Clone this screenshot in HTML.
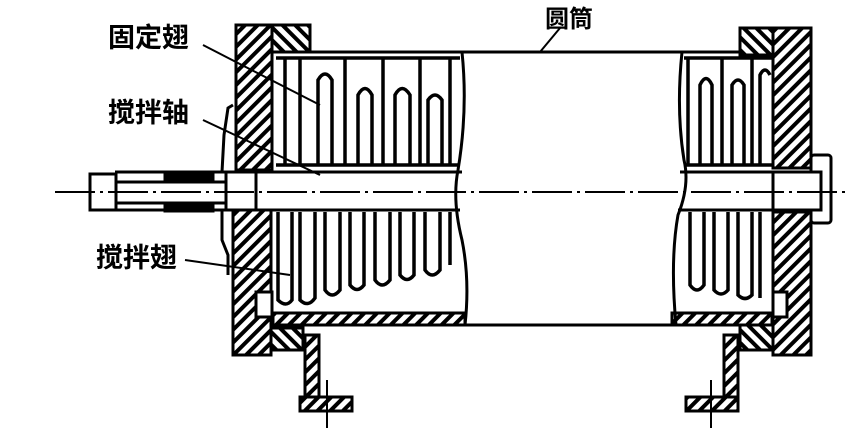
<!DOCTYPE html>
<html><head><meta charset="utf-8"><style>
html,body{margin:0;padding:0;background:#fff;}
svg{display:block}
text{font-family:"Liberation Sans","Noto Sans CJK SC",sans-serif;font-weight:bold;font-size:27px;fill:#000}
</style></head><body>
<svg width="849" height="430" viewBox="0 0 849 430" xmlns="http://www.w3.org/2000/svg">
<defs>
<pattern id="h" width="9" height="9" patternUnits="userSpaceOnUse" patternTransform="rotate(45)">
<rect width="9" height="9" fill="#fff"/><rect width="4" height="9" fill="#000"/></pattern>
<pattern id="h2" width="9" height="9" patternUnits="userSpaceOnUse" patternTransform="rotate(-45)">
<rect width="9" height="9" fill="#fff"/><rect width="4" height="9" fill="#000"/></pattern>
</defs>
<g stroke="#000" stroke-width="3" fill="none">
<rect x="236" y="25" width="36" height="145" fill="url(#h)"/>
<rect x="233" y="210" width="38" height="145" fill="url(#h)"/>
<rect x="272" y="25" width="38" height="27" fill="url(#h2)"/>
<rect x="271" y="328" width="32" height="22" fill="url(#h2)"/>
<rect x="256" y="292" width="16" height="25" fill="#fff"/>
<rect x="773" y="28" width="38" height="140" fill="url(#h)"/>
<rect x="773" y="212" width="38" height="143" fill="url(#h)"/>
<rect x="740" y="28" width="33" height="27" fill="url(#h2)"/>
<rect x="740" y="325" width="33" height="25" fill="url(#h2)"/>
<rect x="773" y="292" width="14" height="25" fill="#fff"/>
<line x1="310" y1="52" x2="740" y2="52"/>
<line x1="271" y1="325" x2="773" y2="325"/>
<rect x="273" y="313" width="192" height="12" fill="url(#h)"/>
<rect x="672" y="313" width="100" height="12" fill="url(#h)"/>
<!-- shaft -->
<line x1="115" y1="172" x2="462" y2="172"/>
<line x1="115" y1="210" x2="460" y2="210"/>
<line x1="680" y1="172" x2="815" y2="172"/>
<line x1="678" y1="210" x2="815" y2="210"/>
<rect x="90" y="174" width="26" height="36" fill="#fff"/>
<rect x="116" y="182" width="120" height="21" fill="#fff"/>
<rect x="165" y="172" width="48" height="10" fill="#000"/>
<rect x="165" y="203" width="48" height="8" fill="#000"/>
<rect x="226" y="172" width="30" height="38" fill="#fff"/>
<rect x="811" y="155" width="20" height="68" fill="#fff" rx="3"/>
<rect x="773" y="172" width="48" height="38" fill="#fff"/>
<path d="M233 105 L228 108 L224 135 L222 172 M222 210 L222 240 L228 255 L228 275"/>
<rect x="305" y="335" width="14" height="68" fill="url(#h)"/>
<rect x="300" y="397" width="52" height="14" fill="url(#h)"/>
<rect x="724" y="335" width="14" height="68" fill="url(#h)"/>
<rect x="686" y="397" width="52" height="14" fill="url(#h)"/>
<line x1="327" y1="380" x2="327" y2="428" stroke-width="2"/>
<line x1="711" y1="380" x2="711" y2="428" stroke-width="2"/>
<path d="M462 52 Q468 110 458 170 Q452 200 462 240 Q470 280 465 325"/>
<path d="M682 52 Q676 110 684 160 Q690 185 678 215 Q670 260 676 325"/>
<g stroke-width="3.5">
<path d="M285 165 V58 M300 165 V58 M318 165 V80 Q325 68 332 80 V165 M345 165 V58 M358 165 V95 Q365 82 372 95 V165 M383 165 V58 M395 165 V95 Q402 82 410 95 V165 M420 165 V58 M428 165 V100 Q435 90 442 100 V165 M450 165 V58"/>
<path d="M276 58 H460 M276 165 H460"/>
<path d="M278 212 V300 Q286 308 292 300 V212 M300 212 V300 Q308 308 315 298 V212 M325 212 V290 Q332 300 340 290 V212 M350 212 V285 Q357 294 364 285 V212 M375 212 V280 Q382 290 390 280 V212 M400 212 V275 Q407 284 414 275 V212 M425 212 V270 Q432 280 440 270 V212 M450 212 V265"/>
<path d="M688 58 V165 M700 165 V85 Q706 72 712 85 V165 M722 58 V165 M732 165 V85 Q738 75 744 85 V165 M752 58 V165 M760 165 V75 Q765 65 770 75"/>
<path d="M684 58 H772 M684 165 H772"/>
<path d="M690 212 V285 Q697 295 704 285 V212 M714 212 V290 Q721 298 728 290 V212 M738 212 V295 Q745 302 752 295 V212 M760 212 V298"/>
</g>
</g>
<line x1="55" y1="192" x2="849" y2="192" stroke="#000" stroke-width="2" stroke-dasharray="40 5 3 5"/>
<g stroke="#000" stroke-width="2">
<line x1="203" y1="45" x2="236" y2="62"/>
<line x1="236" y1="62" x2="320" y2="105"/>
<line x1="203" y1="120" x2="320" y2="175"/>
<line x1="185" y1="260" x2="290" y2="275"/>
<line x1="560" y1="28" x2="540" y2="52"/>
</g>
<text x="108" y="47">固定翅</text>
<text x="108" y="122">搅拌轴</text>
<text x="96" y="267">搅拌翅</text>
<text x="545" y="27" style="font-size:24px">圆筒</text>
</svg>
</body></html>
